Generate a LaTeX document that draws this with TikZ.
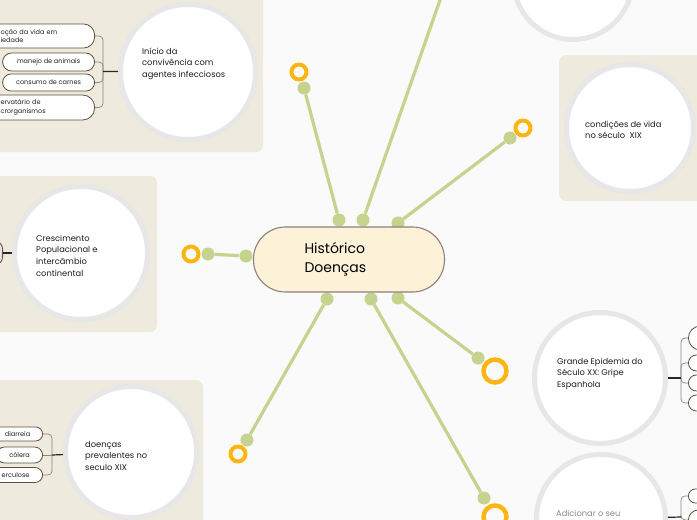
\documentclass[tikz,border=0pt]{standalone}
\usepackage{fontspec}
\setmainfont{Poppins}
\definecolor{bgc}{HTML}{FAFAFA}
\definecolor{panelc}{HTML}{EEEADD}
\definecolor{ringc}{HTML}{E7E7E7}
\definecolor{lgreen}{HTML}{C4D38D}
\definecolor{orng}{HTML}{FDB514}
\definecolor{rootfill}{HTML}{FDF1D7}
\definecolor{rootdraw}{HTML}{8C807A}
\definecolor{pilldraw}{HTML}{5C5040}
\definecolor{brkc}{HTML}{8F8676}
\definecolor{txtc}{HTML}{1E1E1E}
\definecolor{grayt}{HTML}{8A8A8A}
\begin{document}
\begin{tikzpicture}[x=1pt,y=-1pt,
  panel/.style={fill=panelc, rounded corners=7},
  topic/.style={circle, draw=ringc, line width=5, fill=white, inner sep=0},
  ttext/.style={inner sep=0, align=left, text=txtc, font=\fontsize{8.3}{11.8}\selectfont},
  dot/.style={circle, fill=lgreen, minimum size=13, inner sep=0},
  conn/.style={draw=lgreen, line width=3.2},
  ringS/.style={circle, draw=orng, line width=4, minimum size=15, inner sep=0},
  ringL/.style={circle, draw=orng, line width=4.5, minimum size=23, inner sep=0},
  root/.style={draw=rootdraw, fill=rootfill, line width=1.1, rounded corners=32,
     minimum height=65, text width=89, inner xsep=51, align=left, text=black,
     font=\fontsize{14}{19.5}\selectfont},
  pill/.style={draw=pilldraw, fill=white, line width=0.8, inner sep=0, text=txtc,
     font=\fontsize{6.5}{8.5}\selectfont},
  brk/.style={draw=brkc, line width=0.7, rounded corners=4},
  dk/.style={draw=black!85, line width=1.2},
]
\useasboundingbox (0,0) rectangle (697,520);
\clip (0,0) rectangle (697,520);
\fill[bgc] (0,0) rectangle (697,520);

% panels
\fill[panel] (-10,-10) rectangle (263,152);
\fill[panel] (-10,176) rectangle (157,332);
\fill[panel] (-10,380) rectangle (203,540);
\fill[panel] (559,55) rectangle (720,201);

% ---------- panel A
\node[pill, anchor=east, text width=74, inner xsep=20, align=left, minimum height=24, rounded corners=11] (pa1) at (95,36) {oção da vida em\\iedade};
\node[pill, anchor=east, minimum width=92, minimum height=18, rounded corners=9] (pa2) at (95,62) {manejo de animais};
\node[pill, anchor=east, minimum width=92, minimum height=17, rounded corners=8.5] (pa3) at (95,82.5) {consumo de carnes};
\node[pill, anchor=east, text width=74, inner xsep=20, align=left, minimum height=25, rounded corners=12] (pa4) at (95,107.5) {ervatário de\\crorganismos};
\coordinate (jA) at (103,71.5);
\draw[brk] (pa1.east) -| (jA);
\draw[brk] (pa4.east) -| (jA);
\draw[brk] (pa2.east) -| (jA);
\draw[brk] (pa3.east) -| (jA);
\node[topic, minimum size=135] (cA) at (188,72) {};
\draw[dk] (jA) -- (cA);
\node[ttext, anchor=base west] (cAt) at (142,77.6) {Início da\\convivência com\\agentes infecciosos};

% ---------- panel B
\node[pill, anchor=east, fill=panelc!70!pilldraw!40, minimum width=30, minimum height=24, rounded corners=8] (pb1) at (3,253) {};
\node[topic, minimum size=133] (cB) at (81,253) {};
\draw[dk] (pb1) -- (cB);
\node[ttext, anchor=base west] (cBt) at (36,276.4) {Crescimento\\Populacional e\\intercâmbio\\continental};

% ---------- panel C
\node[pill, anchor=east, minimum width=50, minimum height=14, rounded corners=7] (pc1) at (43,434) {diarreia};
\node[pill, anchor=east, minimum width=46, minimum height=16, rounded corners=8] (pc2) at (43,455) {cólera};
\node[pill, anchor=east, minimum width=54, minimum height=15, rounded corners=7.5] (pc3) at (43,475) {erculose};
\coordinate (jC) at (52,455);
\draw[brk] (pc1.east) -| (jC);
\draw[brk] (pc3.east) -| (jC);
\draw[brk] (pc2.east) -- (jC);
\node[topic, minimum size=131] (cC) at (131,452) {};
\draw[dk] (jC) -- (cC);
\node[ttext, anchor=base west] (cCt) at (85,470.6) {doenças\\prevalentes no\\seculo XIX};

% ---------- panel D
\node[topic, minimum size=127] (cD) at (630,128) {};
\node[ttext, anchor=base west, font=\fontsize{8.3}{11}\selectfont] (cDt) at (585,138) {condições de vida\\no século\ \ XIX};

% ---------- top circle
\node[topic, minimum size=119] (cT) at (573,-20) {};

% ---------- Grande Epidemia
\node[pill, anchor=west, minimum width=60, minimum height=24, rounded corners=12] (pe1) at (688,338) {};
\node[pill, anchor=west, minimum width=60, minimum height=16, rounded corners=8] (pe2) at (688,363) {};
\node[pill, anchor=west, minimum width=60, minimum height=16, rounded corners=8] (pe3) at (688,383) {};
\node[pill, anchor=west, minimum width=60, minimum height=16, rounded corners=8] (pe4) at (688,403) {};
\coordinate (jE) at (681,378);
\draw[brk] (pe1.west) -| (jE);
\draw[brk] (pe4.west) -| (jE);
\draw[brk] (pe2.west) -| (jE);
\draw[brk] (pe3.west) -| (jE);
\node[topic, minimum size=131] (cE) at (600,378) {};
\draw[dk] (jE) -- (cE);
\node[ttext, anchor=base west] (cEt) at (557,387.6) {Grande Epidemia do\\Século XX: Gripe\\Espanhola};

% ---------- Adicionar
\node[pill, anchor=west, minimum width=60, minimum height=14, rounded corners=7] (pf1) at (688,496) {};
\node[pill, anchor=west, minimum width=60, minimum height=20, rounded corners=10] (pf2) at (688,520) {};
\coordinate (jF) at (681,517);
\draw[brk] (pf1.west) -| (jF);
\draw[brk] (pf2.west) -| (jF);
\node[topic, minimum size=129] (cF) at (601,519) {};
\draw[dk] (jF) -- (cF);
\node[ttext, anchor=base west, text=grayt] (cFt) at (556,516) {Adicionar o seu};

% ---------- connectors
\node[dot] (a1) at (339,220) {};
\node[dot] (b1) at (304,88) {};
\node[dot] (a2) at (363,220) {};
\coordinate (b2) at (450.5,-30);
\node[dot] (a3) at (398,223) {};
\node[dot] (b3) at (510,138) {};
\node[dot] (a4) at (246,256) {};
\node[dot] (b4) at (208,254) {};
\node[dot] (a5) at (327,299) {};
\node[dot] (b5) at (247,440) {};
\node[dot] (a6) at (371,299) {};
\node[dot] (b6) at (484,498) {};
\node[dot] (a7) at (398,298) {};
\node[dot] (b7) at (478,358) {};
\draw[conn] (a1) -- (b1);
\draw[conn] (a2) -- (b2);
\draw[conn] (a3) -- (b3);
\draw[conn] (a4) -- (b4);
\draw[conn] (a5) -- (b5);
\draw[conn] (a6) -- (b6);
\draw[conn] (a7) -- (b7);
\node[ringS] (r1) at (299,72) {};
\node[ringS] (r3) at (523,128) {};
\node[ringS] (r4) at (191,254) {};
\node[ringS] (r5) at (238,454) {};
\node[ringL] (r6) at (495,517) {};
\node[ringL] (r7) at (495,371) {};

% ---------- root
\node[root] (root) at (349,259.5) {Histórico\\Doenças};
\end{tikzpicture}
\end{document}
